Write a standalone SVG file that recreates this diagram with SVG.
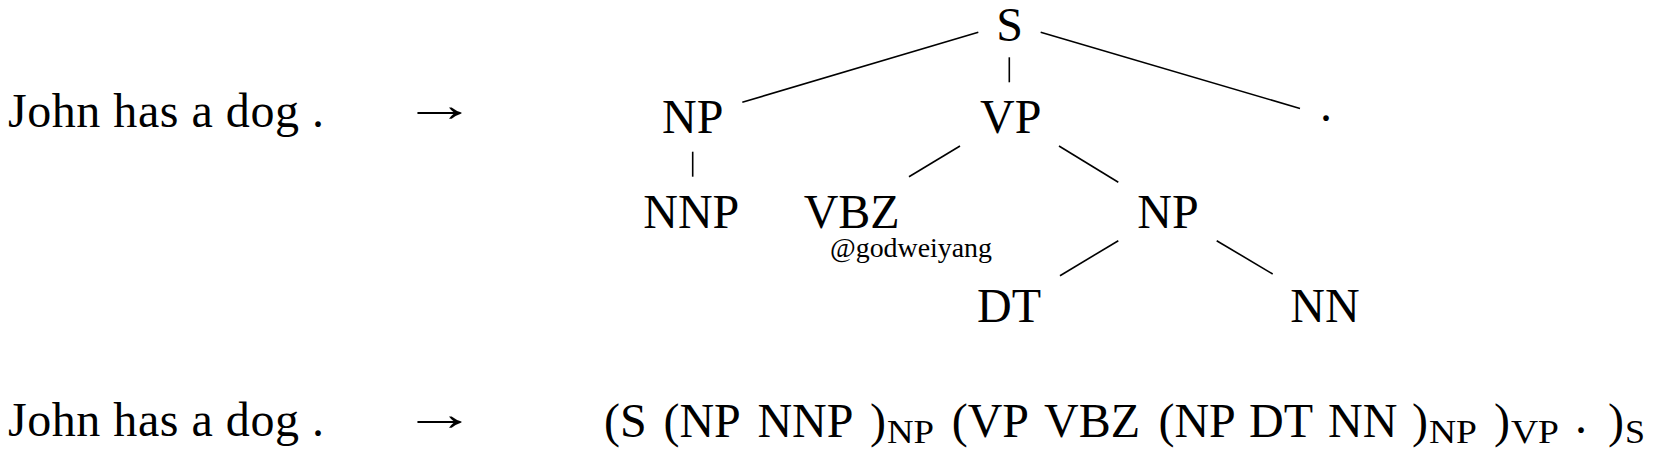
<svg xmlns="http://www.w3.org/2000/svg" width="1654" height="456" viewBox="0 0 1654 456">
<style>
text{font-family:"Liberation Serif","Times New Roman",Times,"DejaVu Serif",serif;fill:#000}
.t{font-size:48px}
.n{font-size:48px;text-anchor:middle}
.f{font-size:48px}
.sub{font-size:33px}
.w{font-size:28px}
.arr{font-size:48px;text-anchor:middle}
#edges line{stroke:#000;stroke-width:1.6;stroke-linecap:butt}
</style>
<rect width="1654" height="456" fill="#fff"/>
<g id="left-top">
<text class="t" x="8" y="127" textLength="316" lengthAdjust="spacing">John has a dog .</text>
<text class="arr" transform="translate(439.5,121) scale(1.55,1)" x="0" y="0">→</text>
</g>
<g id="edges">
<line x1="742.3" y1="102.3" x2="978.3" y2="32.3"/>
<line x1="1009.3" y1="57.3" x2="1009.3" y2="82.3"/>
<line x1="1040.7" y1="32.3" x2="1300" y2="108.5"/>
<line x1="692.7" y1="151.7" x2="692.7" y2="176.7"/>
<line x1="909" y1="176.7" x2="960" y2="146"/>
<line x1="1059" y1="146" x2="1118.3" y2="182.3"/>
<line x1="1118.3" y1="240.7" x2="1060" y2="275.7"/>
<line x1="1216.7" y1="240.7" x2="1272.7" y2="274"/>
</g>
<g id="node-S"><text class="n" x="1009.5" y="41">S</text></g>
<g id="node-NP1"><text class="n" x="692.7" y="133.3">NP</text></g>
<g id="node-VP"><text class="n" x="1010.8" y="133.3">VP</text></g>
<g id="node-dot"><text class="n" x="1326" y="121">.</text></g>
<g id="node-NNP"><text class="n" x="691.3" y="227.7">NNP</text></g>
<g id="node-VBZ"><text class="n" x="851.7" y="227.7">VBZ</text></g>
<g id="node-NP2"><text class="n" x="1168" y="228">NP</text></g>
<g id="node-DT"><text class="n" x="1009" y="321.7">DT</text></g>
<g id="node-NN"><text class="n" x="1325" y="321.7">NN</text></g>
<g id="watermark"><text class="w" x="830" y="257" textLength="162" lengthAdjust="spacingAndGlyphs">@godweiyang</text></g>
<g id="left-bottom">
<text class="t" x="8" y="436" textLength="316" lengthAdjust="spacing">John has a dog .</text>
<text class="arr" transform="translate(439.5,430) scale(1.55,1)" x="0" y="0">→</text>
</g>
<g id="bracketed">
<text class="f" y="437"><tspan x="604">(S</tspan><tspan x="663.4">(NP</tspan><tspan x="757.4">NNP</tspan><tspan x="870.1">)</tspan><tspan x="951.7">(VP</tspan><tspan x="1044">VBZ</tspan><tspan x="1158.4">(NP</tspan><tspan x="1249">DT</tspan><tspan x="1328">NN</tspan><tspan x="1412">)</tspan><tspan x="1494">)</tspan><tspan x="1608">)</tspan></text>
<text class="f" x="1581" y="433" text-anchor="middle">.</text>
<text class="sub" x="887" y="443" textLength="47" lengthAdjust="spacingAndGlyphs">NP</text>
<text class="sub" x="1429" y="443" textLength="48" lengthAdjust="spacingAndGlyphs">NP</text>
<text class="sub" x="1511" y="443" textLength="48" lengthAdjust="spacingAndGlyphs">VP</text>
<text class="sub" x="1625" y="443" textLength="20" lengthAdjust="spacingAndGlyphs">S</text>
</g>
</svg>
